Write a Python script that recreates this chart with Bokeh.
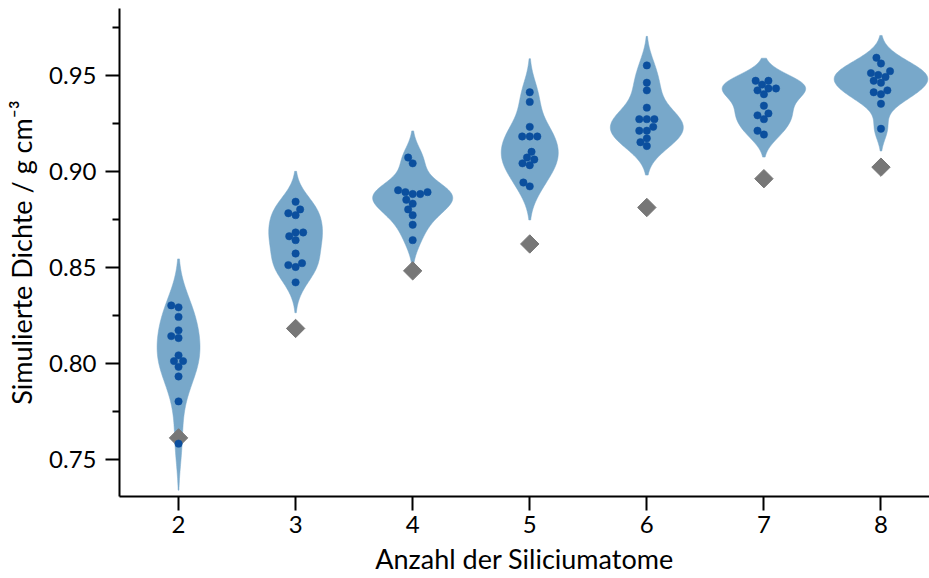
import numpy as np
from bokeh.plotting import figure
from bokeh.models import FixedTicker, PrintfTickFormatter, Range1d
from bokeh.embed import file_html
from bokeh.resources import INLINE

# ---------------- data ----------------
atoms = [2, 3, 4, 5, 6, 7, 8]
tick_labels = ["2", "3", "4", "5", "6", "7", "8"]

dichte_2 = [0.830, 0.829, 0.824, 0.817, 0.813, 0.814, 0.804, 0.801, 0.801, 0.798, 0.793, 0.780, 0.758]
dichte_3 = [0.884, 0.878, 0.880, 0.877, 0.866, 0.868, 0.868, 0.864, 0.857, 0.851, 0.850, 0.852, 0.842]
dichte_4 = [0.907, 0.904, 0.890, 0.889, 0.888, 0.888, 0.889, 0.885, 0.883, 0.880, 0.877, 0.872, 0.864]
dichte_5 = [0.941, 0.936, 0.923, 0.918, 0.918, 0.918, 0.910, 0.907, 0.906, 0.904, 0.903, 0.894, 0.892]
dichte_6 = [0.955, 0.946, 0.942, 0.933, 0.927, 0.927, 0.927, 0.923, 0.921, 0.921, 0.917, 0.915, 0.913]
dichte_7 = [0.947, 0.945, 0.947, 0.942, 0.943, 0.943, 0.940, 0.934, 0.930, 0.929, 0.927, 0.921, 0.919]
dichte_8 = [0.959, 0.956, 0.951, 0.950, 0.949, 0.952, 0.947, 0.946, 0.941, 0.940, 0.942, 0.935, 0.922]
experiment = [0.761, 0.818, 0.848, 0.862, 0.881, 0.896, 0.902]

groups = [dichte_2, dichte_3, dichte_4, dichte_5, dichte_6, dichte_7, dichte_8]

y_major = [0.75, 0.80, 0.85, 0.90, 0.95]
y_minor = [0.775, 0.825, 0.875, 0.925, 0.975]

# ---------------- layout ----------------
W, H = 929, 578
BL, BT, BB = 119, 8, 82
x0, x1 = 1.4957, 8.4145
y0, y1 = 0.73047, 0.98464
FONT = "Lato"
FS_TICK = "24px"
FS_LABEL = "27px"

VIOLIN = "#78a8ca"
DOT = "#0b4f9e"
DIAMOND = "#777777"

p = figure(width=W, height=H, x_range=Range1d(x0, x1), y_range=Range1d(y0, y1),
           output_backend="svg", toolbar_location=None,
           min_border_left=BL, min_border_right=0, min_border_top=BT,
           min_border_bottom=BB)
p.outline_line_color = None
p.xgrid.visible = False
p.ygrid.visible = False
p.background_fill_color = "white"
p.border_fill_color = "white"

sx = (W - BL) / (x1 - x0)
sy = (H - BB - BT) / (y1 - y0)


def kde(vals, cut=2.0, gridsize=100):
    v = np.asarray(vals, dtype=float)
    n = len(v)
    bw = n ** (-0.2) * v.std(ddof=1)
    grid = np.linspace(v.min() - cut * bw, v.max() + cut * bw, gridsize)
    dens = np.exp(-0.5 * ((grid[:, None] - v[None, :]) / bw) ** 2).sum(1) / (n * bw * np.sqrt(2 * np.pi))
    return grid, dens


def swarm(vals, r=3.6):
    ys = np.asarray(vals, dtype=float) * sy
    order = np.argsort(ys, kind="stable")
    placed = []
    xs = np.zeros(len(ys))
    for idx in order:
        y = ys[idx]
        nb = [(px, py) for (px, py) in placed if abs(y - py) < 2 * r]
        cands = [0.0]
        left_first = True
        for (px, py) in nb:
            dy = y - py
            dx = np.sqrt(max(4 * r * r - dy * dy, 0.0)) * 1.05
            cands.extend([px - dx, px + dx] if left_first else [px + dx, px - dx])
            left_first = not left_first
        cands = sorted(cands, key=abs)
        for c in cands:
            if all((c - px) ** 2 + (y - py) ** 2 >= (2 * r) ** 2 - 1e-6 for (px, py) in nb):
                xs[idx] = c
                break
        placed.append((xs[idx], y))
    return xs / sx


kdes = [kde(g) for g in groups]
gmax = max(d.max() for _, d in kdes)

vx, vy = [], []
for c, (grid, dens) in zip(atoms, kdes):
    half = 0.4 * dens / gmax
    vx.append(list(np.concatenate([c + half, (c - half)[::-1]])))
    vy.append(list(np.concatenate([grid, grid[::-1]])))
p.patches(vx, vy, fill_color=VIOLIN, line_color=VIOLIN, line_width=0.5)

p.scatter(atoms, experiment, marker="square", angle=np.pi / 4, size=13,
          fill_color=DIAMOND, line_color=DIAMOND)

dx_all, dy_all = [], []
for c, g in zip(atoms, groups):
    offs = swarm(g)
    dx_all.extend(list(c + offs))
    dy_all.extend(g)
p.scatter(dx_all, dy_all, marker="circle", size=7.4, fill_color=DOT, line_color=DOT, line_width=0.5)

# ---------------- axes ----------------
for ax in (p.xaxis[0], p.yaxis[0]):
    ax.axis_line_width = 2
    ax.axis_line_color = "black"
    ax.major_tick_line_width = 2
    ax.minor_tick_line_width = 2
    ax.major_tick_line_color = "black"
    ax.minor_tick_line_color = "black"
    ax.major_tick_in = 0
    ax.minor_tick_in = 0
    ax.major_label_text_font = FONT
    ax.major_label_text_font_size = FS_TICK
    ax.major_label_text_color = "black"
    ax.axis_label_text_font = FONT
    ax.axis_label_text_font_size = FS_LABEL
    ax.axis_label_text_font_style = "normal"
    ax.axis_label_text_color = "black"

p.xaxis.ticker = FixedTicker(ticks=atoms, minor_ticks=[])
p.xaxis.major_label_overrides = {a: t for a, t in zip(atoms, tick_labels)}
p.xaxis.major_tick_out = 14
p.xaxis.major_label_standoff = 5
p.xaxis.axis_label = "Anzahl der Siliciumatome"
p.xaxis.axis_label_standoff = 6

p.yaxis.ticker = FixedTicker(ticks=y_major, minor_ticks=y_minor)
p.yaxis.formatter = PrintfTickFormatter(format="%.2f")
p.yaxis.major_tick_out = 14
p.yaxis.minor_tick_out = 7
p.yaxis.major_label_standoff = 9
p.yaxis.axis_label = "Simulierte Dichte / g cm⁻³"
p.yaxis.axis_label_standoff = 8

open("out.html", "w").write(file_html(p, INLINE))
